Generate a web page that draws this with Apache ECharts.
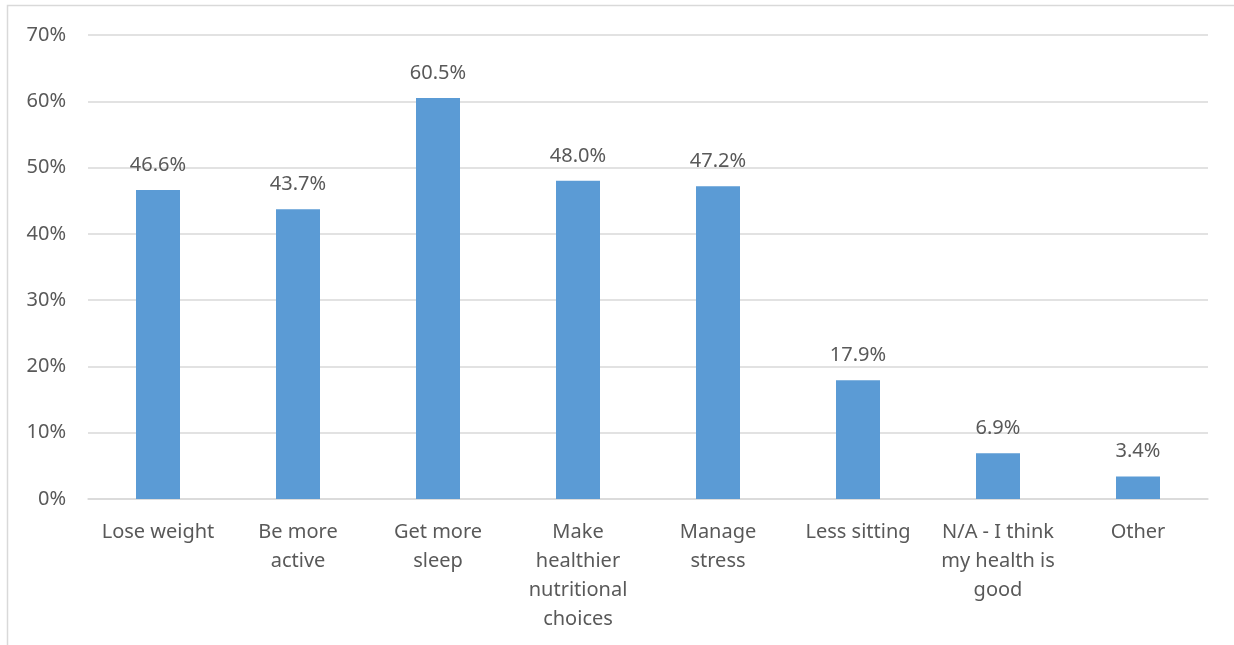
<!DOCTYPE html>
<html>
<head>
<meta charset="utf-8">
<script src="https://cdn.jsdelivr.net/npm/echarts@6/dist/echarts.min.js"></script>
<style>
  html, body { margin: 0; padding: 0; background: #fff; }
  #chart { width: 1234px; height: 645px; }
</style>
</head>
<body>
<div id="chart"></div>
<script>
var categories = [
  'Lose weight',
  'Be more\nactive',
  'Get more\nsleep',
  'Make\nhealthier\nnutritional\nchoices',
  'Manage\nstress',
  'Less sitting',
  'N/A - I think\nmy health is\ngood',
  'Other'
];
var shares = [46.6, 43.7, 60.5, 48.0, 47.2, 17.9, 6.9, 3.4];
var yTicks = [0, 10, 20, 30, 40, 50, 60, 70];

var font = 'Noto Sans';
var textColor = '#595959';

var chart = echarts.init(document.getElementById('chart'));

var option = {
  animation: false,
  graphic: [
    {
      type: 'rect',
      shape: { x: 7.5, y: 5.5, width: 1300, height: 700 },
      style: { fill: 'none', stroke: '#d9d9d9', lineWidth: 1.5 },
      silent: true
    }
  ],
  grid: { left: 88, right: 26, top: 35, bottom: 146 },
  xAxis: {
    type: 'category',
    data: categories,
    axisLine: { lineStyle: { color: '#d9d9d9', width: 1.5 } },
    axisTick: { show: false },
    axisLabel: {
      color: textColor,
      fontFamily: font,
      fontSize: 20,
      lineHeight: 29,
      margin: 19,
      interval: 0
    }
  },
  yAxis: {
    type: 'value',
    min: yTicks[0],
    max: yTicks[yTicks.length - 1],
    interval: 10,
    axisLine: { show: false },
    axisTick: { show: false },
    splitLine: { lineStyle: { color: '#d9d9d9', width: 1.5 } },
    axisLabel: {
      color: textColor,
      fontFamily: font,
      fontSize: 20,
      margin: 22,
      formatter: function (v) { return v + '%'; }
    }
  },
  series: [
    {
      type: 'bar',
      data: shares,
      barWidth: 44,
      itemStyle: { color: '#5b9bd5' },
      label: {
        show: true,
        position: 'top',
        distance: 15,
        color: textColor,
        fontFamily: font,
        fontSize: 20,
        formatter: function (p) { return p.value.toFixed(1) + '%'; }
      }
    }
  ]
};

chart.setOption(option);
</script>
</body>
</html>
